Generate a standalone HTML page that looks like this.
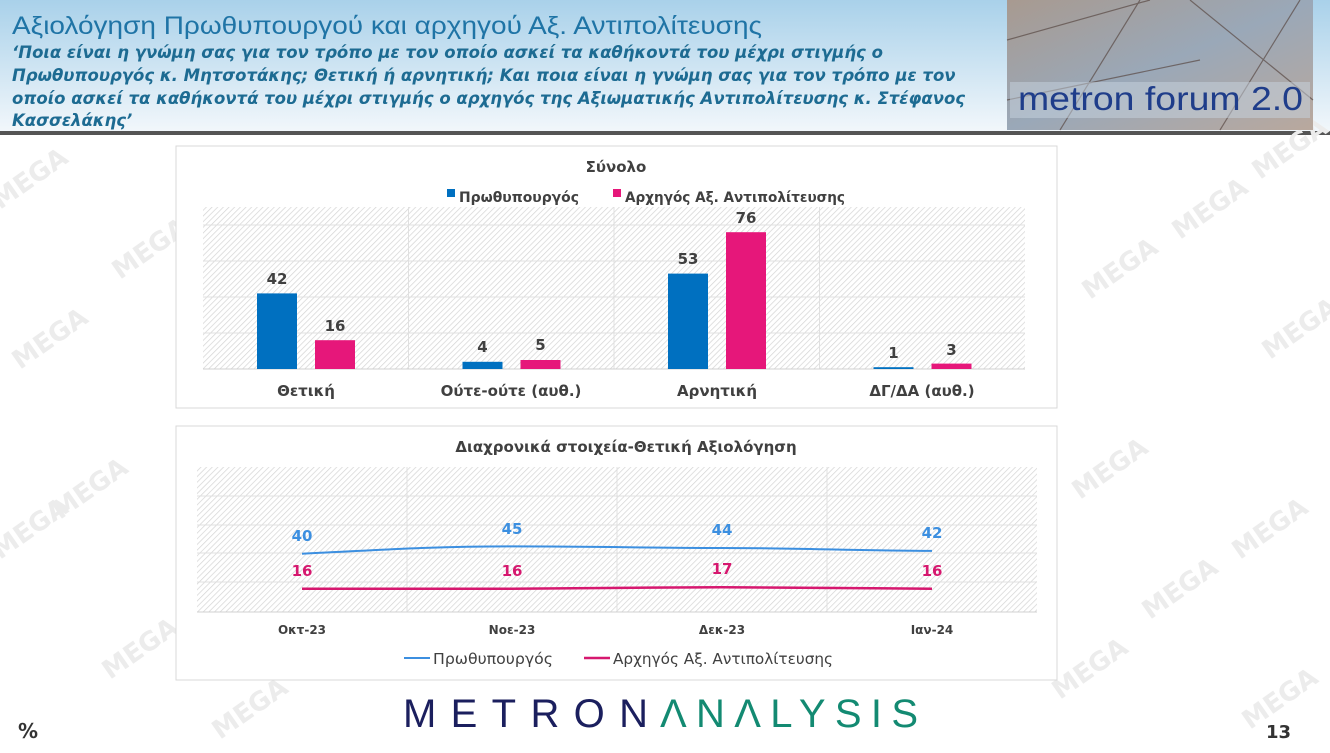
<!DOCTYPE html>
<html><head><meta charset="utf-8"><style>
body{margin:0;width:1330px;height:748px;overflow:hidden;background:#fff;font-family:"Liberation Sans","DejaVu Sans",sans-serif}
</style></head><body>
<svg width="1330" height="748" viewBox="0 0 1330 748" xmlns="http://www.w3.org/2000/svg" font-family="DejaVu Sans, Liberation Sans, sans-serif">
<defs>
<linearGradient id="hg" x1="0" y1="0" x2="0" y2="1"><stop offset="0" stop-color="#a9d1ea"/><stop offset="1" stop-color="#f2f7fb"/></linearGradient>
<linearGradient id="lg" x1="0" y1="0" x2="1" y2="1"><stop offset="0" stop-color="#a89a90"/><stop offset="0.5" stop-color="#9aa8b8"/><stop offset="1" stop-color="#b9a89d"/></linearGradient>
<pattern id="hatch" width="4" height="4" patternUnits="userSpaceOnUse" patternTransform="rotate(45)"><rect width="4" height="4" fill="#fff"/><line x1="0" y1="0" x2="0" y2="4" stroke="#d4d4d4" stroke-width="1.4"/></pattern>
</defs>
<rect x="0" y="0" width="1330" height="132" fill="url(#hg)"/>
<rect x="0" y="131" width="1330" height="4" fill="#555"/>
<g fill="#ececec" font-size="26" font-weight="bold">
<text transform="translate(0,210) rotate(-35)">MEGA</text>
<text transform="translate(20,370) rotate(-35)">MEGA</text>
<text transform="translate(120,280) rotate(-35)">MEGA</text>
<text transform="translate(0,560) rotate(-35)">MEGA</text>
<text transform="translate(60,520) rotate(-35)">MEGA</text>
<text transform="translate(110,680) rotate(-35)">MEGA</text>
<text transform="translate(1090,300) rotate(-35)">MEGA</text>
<text transform="translate(1180,240) rotate(-35)">MEGA</text>
<text transform="translate(1260,180) rotate(-35)">MEGA</text>
<text transform="translate(1270,360) rotate(-35)">MEGA</text>
<text transform="translate(1080,500) rotate(-35)">MEGA</text>
<text transform="translate(1150,620) rotate(-35)">MEGA</text>
<text transform="translate(1240,560) rotate(-35)">MEGA</text>
<text transform="translate(1060,700) rotate(-35)">MEGA</text>
<text transform="translate(1250,730) rotate(-35)">MEGA</text>
<text transform="translate(220,740) rotate(-35)">MEGA</text>
</g>
<text x="12" y="34" font-size="25" fill="#1f74a6" font-family="Liberation Sans, sans-serif" textLength="750" lengthAdjust="spacingAndGlyphs">Αξιολόγηση Πρωθυπουργού και αρχηγού Αξ. Αντιπολίτευσης</text>
<g font-size="16.5" font-weight="bold" font-style="italic" fill="#1d6b92">
<text x="12" y="58">‘Ποια είναι η γνώμη σας για τον τρόπο με τον οποίο ασκεί τα καθήκοντά του μέχρι στιγμής ο</text>
<text x="12" y="81">Πρωθυπουργός κ. Μητσοτάκης; Θετική ή αρνητική; Και ποια είναι η γνώμη σας για τον τρόπο με τον</text>
<text x="12" y="104">οποίο ασκεί τα καθήκοντά του μέχρι στιγμής ο αρχηγός της Αξιωματικής Αντιπολίτευσης κ. Στέφανος</text>
<text x="12" y="126">Κασσελάκης’</text>
</g>
<rect x="1007" y="0" width="306" height="130" fill="url(#lg)"/>
<g stroke="#5a4a45" stroke-width="1.2" opacity="0.7"><line x1="1007" y1="40" x2="1150" y2="0"/><line x1="1060" y1="130" x2="1140" y2="0"/><line x1="1190" y1="0" x2="1313" y2="100"/><line x1="1007" y1="100" x2="1200" y2="60"/><line x1="1220" y1="130" x2="1300" y2="0"/></g>
<rect x="1010" y="82" width="300" height="36" fill="#c8d4e0" opacity="0.5"/>
<text x="1018" y="110" font-size="33" fill="#1f3d8a" font-family="Liberation Sans, sans-serif" textLength="285" lengthAdjust="spacingAndGlyphs">metron forum 2.0</text>
<!-- bar chart -->
<rect x="176" y="146" width="881" height="262" fill="#fff" stroke="#d9d9d9"/>
<text x="616" y="172" font-size="15" font-weight="bold" fill="#404040" text-anchor="middle">Σύνολο</text>
<rect x="447" y="189" width="8" height="8" fill="#0070c0"/>
<text x="459" y="202" font-size="14.5" fill="#404040" font-weight="bold" textLength="120" lengthAdjust="spacingAndGlyphs">Πρωθυπουργός</text>
<rect x="613" y="189" width="8" height="8" fill="#e6177a"/>
<text x="625" y="202" font-size="14.5" fill="#404040" font-weight="bold" textLength="220" lengthAdjust="spacingAndGlyphs">Αρχηγός Αξ. Αντιπολίτευσης</text>
<rect x="203" y="207" width="822" height="162" fill="url(#hatch)"/>
<g stroke="#e0e0e0"><line x1="203" y1="225" x2="1025" y2="225"/><line x1="203" y1="261" x2="1025" y2="261"/><line x1="203" y1="297" x2="1025" y2="297"/><line x1="203" y1="333" x2="1025" y2="333"/><line x1="408.5" y1="207" x2="408.5" y2="369"/><line x1="614" y1="207" x2="614" y2="369"/><line x1="819.5" y1="207" x2="819.5" y2="369"/></g>
<line x1="203" y1="369" x2="1025" y2="369" stroke="#d0d0d0"/>
<g fill="#0070c0"><rect x="257" y="293.4" width="40" height="75.6"/><rect x="462.5" y="361.8" width="40" height="7.2"/><rect x="668" y="273.6" width="40" height="95.4"/><rect x="873.5" y="367.2" width="40" height="1.8"/></g>
<g fill="#e6177a"><rect x="315" y="340.2" width="40" height="28.8"/><rect x="520.5" y="360" width="40" height="9"/><rect x="726" y="232.2" width="40" height="136.8"/><rect x="931.5" y="363.6" width="40" height="5.4"/></g>
<g font-size="15" font-weight="bold" fill="#404040" text-anchor="middle">
<text x="277" y="284">42</text><text x="335" y="331">16</text>
<text x="482.5" y="352">4</text><text x="540.5" y="350">5</text>
<text x="688" y="264">53</text><text x="746" y="223">76</text>
<text x="893.5" y="358">1</text><text x="951.5" y="355">3</text>
<text x="306" y="396">Θετική</text><text x="511" y="396">Ούτε-ούτε (αυθ.)</text><text x="717" y="396">Αρνητική</text><text x="922" y="396">ΔΓ/ΔΑ (αυθ.)</text>
</g>
<!-- line chart -->
<rect x="176" y="426" width="881" height="254" fill="#fff" stroke="#d9d9d9"/>
<text x="626" y="452" font-size="15" font-weight="bold" fill="#404040" text-anchor="middle">Διαχρονικά στοιχεία-Θετική Αξιολόγηση</text>
<rect x="197" y="467" width="840" height="145" fill="url(#hatch)"/>
<g stroke="#e0e0e0"><line x1="197" y1="496" x2="1037" y2="496"/><line x1="197" y1="525" x2="1037" y2="525"/><line x1="197" y1="553" x2="1037" y2="553"/><line x1="197" y1="582" x2="1037" y2="582"/><line x1="407" y1="467" x2="407" y2="612"/><line x1="617" y1="467" x2="617" y2="612"/><line x1="827" y1="467" x2="827" y2="612"/></g>
<line x1="197" y1="612" x2="1037" y2="612" stroke="#d0d0d0"/>
<path d="M302,553.7 C380,550 430,546.4 512,546.4 C600,546.4 650,548 722,548 C800,548 850,550.6 932,550.9" fill="none" stroke="#3c8fe0" stroke-width="2"/>
<path d="M302,588.7 L512,588.7 C600,588.7 650,587.2 722,587.2 C800,587.2 850,588.7 932,588.7" fill="none" stroke="#d6186f" stroke-width="2.5"/>
<g font-size="15" font-weight="bold" text-anchor="middle">
<g fill="#3c8fe0"><text x="302" y="541">40</text><text x="512" y="534">45</text><text x="722" y="535">44</text><text x="932" y="538">42</text></g>
<g fill="#d6186f"><text x="302" y="576">16</text><text x="512" y="576">16</text><text x="722" y="574">17</text><text x="932" y="576">16</text></g>
</g>
<g font-size="12" font-weight="bold" fill="#404040" text-anchor="middle"><text x="302" y="634">Οκτ-23</text><text x="512" y="634">Νοε-23</text><text x="722" y="634">Δεκ-23</text><text x="932" y="634">Ιαν-24</text></g>
<line x1="404" y1="658" x2="430" y2="658" stroke="#3c8fe0" stroke-width="2"/>
<text x="433" y="664" font-size="15" fill="#404040" textLength="120" lengthAdjust="spacingAndGlyphs">Πρωθυπουργός</text>
<line x1="584" y1="658" x2="610" y2="658" stroke="#d6186f" stroke-width="2.5"/>
<text x="613" y="664" font-size="15" fill="#404040" textLength="220" lengthAdjust="spacingAndGlyphs">Αρχηγός Αξ. Αντιπολίτευσης</text>
<!-- footer -->
<text x="403" y="727" font-size="40" fill="#1b1f5e" font-family="Liberation Sans, sans-serif" textLength="245" lengthAdjust="spacing">METRON</text>
<text x="660" y="727" font-size="40" fill="#138a72" font-family="Liberation Sans, sans-serif" textLength="258" lengthAdjust="spacing">ΛNΛLYSIS</text>
<text x="18" y="738" font-size="20" font-weight="bold" fill="#333">%</text>
<text x="1266" y="738" font-size="18" font-weight="bold" fill="#333">13</text>
</svg>
</body></html>
